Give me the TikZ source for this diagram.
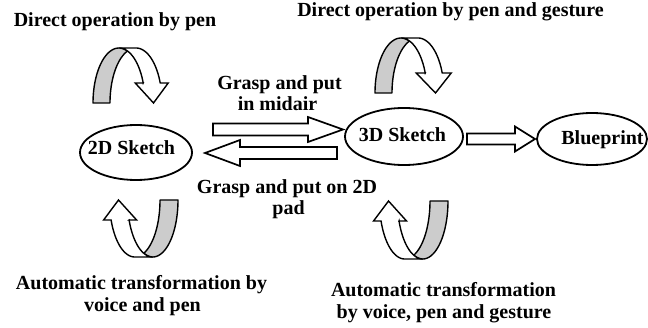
\documentclass[tikz,border=0pt]{standalone}
\usepackage{fontspec}
\setmainfont{Liberation Serif}
\usetikzlibrary{shapes.geometric}
\tikzset{
  lbl/.style={font=\fontsize{20}{22}\selectfont\bfseries, inner sep=0pt, anchor=base},
  oval/.style={draw, ellipse, line width=1.8pt, inner sep=0pt},
  blk/.style={draw, fill=white, line width=1.7pt, line join=miter},
  backband/.style={draw, fill=gray!40, line width=1.4pt, line join=round},
  frontband/.style={draw, fill=white, line width=1.4pt, line join=miter},
}
% curved block arrow (PowerPoint-like): left, top, w, h, th, aw, ah, rotation
\newcommand\curvedarrow[8]{%
  \pgfmathsetmacro\wR{#3/2-(#5+#6)/4}%
  \pgfmathsetmacro\dxx{\wR*sqrt(#4*#4-#7*#7)/#4}%
  \pgfmathsetmacro\yone{#4-#7}%
  \pgfmathsetmacro\xthree{\wR+#5}%
  \pgfmathsetmacro\xfive{\wR+\dxx}%
  \pgfmathsetmacro\xseven{\xthree+\dxx}%
  \pgfmathsetmacro\dhh{(#6-#5)/2}%
  \pgfmathsetmacro\xfour{\xfive-\dhh}%
  \pgfmathsetmacro\xeight{\xseven+\dhh}%
  \pgfmathsetmacro\xsix{#3-#6/2}%
  \pgfmathsetmacro\angE{-asin(#7/#4)}%
  \pgfmathsetmacro\angI{-acos(#5/(2*\wR))}%
  \pgfmathsetmacro\angJ{-180+acos(#5/(2*\wR))}%
  \begin{scope}[shift={(#1,#2)}, rotate around={#8:(#3/2,#4/2)}]
    \draw[backband] plot[domain=-180:\angI, samples=40, variable=\q] ({\wR+\wR*cos(\q)},{#4+#4*sin(\q)})
      -- plot[domain=\angJ:-180, samples=40, variable=\q] ({\xthree+\wR*cos(\q)},{#4+#4*sin(\q)}) -- cycle;
    \draw[frontband] (\xsix,#4) -- (\xfour,\yone) -- (\xfive,\yone)
      -- plot[domain=\angE:-90, samples=40, variable=\q] ({\wR+\wR*cos(\q)},{#4+#4*sin(\q)})
      -- plot[domain=-90:\angE, samples=40, variable=\q] ({\xthree+\wR*cos(\q)},{#4+#4*sin(\q)})
      -- (\xeight,\yone) -- cycle;
  \end{scope}
}
% straight block arrow: start x, head base x, tip x, centre y, shaft half, head half
\newcommand\blockarrow[6]{%
  \draw[blk] (#1,#4-#5) -- (#2,#4-#5) -- (#2,#4-#6) -- (#3,#4) -- (#2,#4+#6) -- (#2,#4+#5) -- (#1,#4+#5) -- cycle;
}
\begin{document}
\begin{tikzpicture}[x=1pt,y=-1pt]
\useasboundingbox (0,0) rectangle (648,328);

% ellipses
\node[oval, minimum width=112pt, minimum height=55pt] (e2d) at (136,152.5) {};
\node[oval, minimum width=118pt, minimum height=57pt] (e3d) at (404,136.5) {};
\node[oval, minimum width=110pt, minimum height=52pt] (ebp) at (592,139) {};
\node[lbl] (t2d) at (131.5,155) {2D Sketch};
\node[lbl] (t3d) at (402.5,141.5) {3D Sketch};
\node[lbl] (tbp) at (602.5,145) {Blueprint};

% straight block arrows
\blockarrow{213}{308}{343}{129.5}{6}{12.5}
\blockarrow{337}{240}{205}{153}{6}{13}
\blockarrow{467}{515}{535}{139}{5.5}{12.5}

% curved block arrows
\curvedarrow{93}{48}{77}{55}{17}{33}{20}{0}
\curvedarrow{375}{38}{78}{55}{17}{35}{20}{0}
\curvedarrow{102}{200}{76}{57}{18}{33}{20}{180}
\curvedarrow{372}{201}{76}{58}{18}{33}{20}{180}

% labels
\node[lbl] (l1) at (115,27) {Direct operation by pen};
\node[lbl] (l2) at (450.5,17) {Direct operation by pen and gesture};
\node[lbl] (l3a) at (279.5,90) {Grasp and put};
\node[lbl] (l3b) at (277.5,111) {in midair};
\node[lbl] (l4a) at (287,194) {Grasp and put on 2D};
\node[lbl] (l4b) at (288.5,215) {pad};
\node[lbl] (l5a) at (141.5,290) {Automatic transformation by};
\node[lbl] (l5b) at (142.5,312) {voice and pen};
\node[lbl] (l6a) at (443.5,297) {Automatic transformation};
\node[lbl] (l6b) at (444,319) {by voice, pen and gesture};
\end{tikzpicture}
\end{document}
